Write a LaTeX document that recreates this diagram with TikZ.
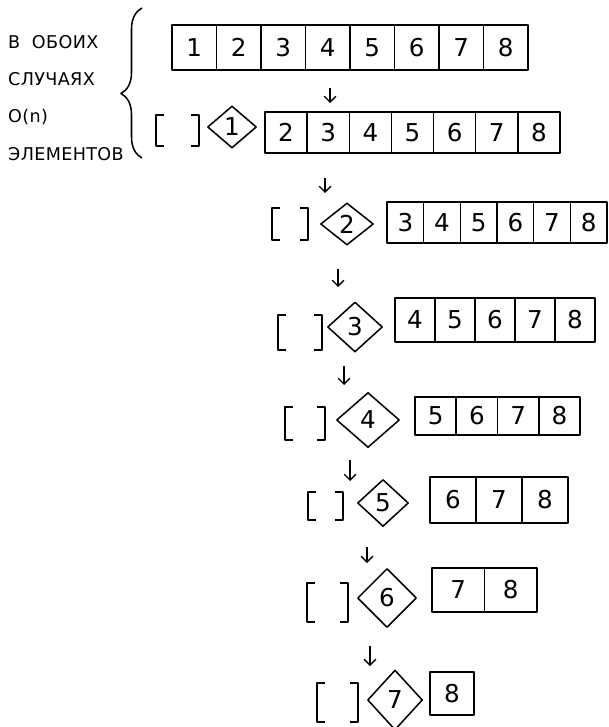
\documentclass[tikz,border=0pt]{standalone}
\usepackage{fontspec}
\setmainfont{DejaVu Sans}
\usetikzlibrary{
  arrows.meta,
  shapes.geometric,
  decorations.pathreplacing
}

\begin{document}
\begin{tikzpicture}[
  x=0.3mm,
  y=-0.3mm,
  line join=round,
  hand/.style={draw=black,line width=1.3pt},
  cell/.style={
    hand,
    rectangle,
    inner sep=0pt,
    font=\fontsize{21}{24}\selectfont
  },
  pivot/.style={
    hand,
    diamond,
    inner sep=0pt,
    font=\fontsize{21}{24}\selectfont
  },
  emptylist/.style={rectangle,inner sep=0pt},
  down/.style={-{Straight Barb[length=5pt,width=10pt]},line width=1.2pt},
  note/.style={anchor=west,inner sep=0pt,
    font=\fontsize{15}{18}\selectfont\addfontfeature{LetterSpace=2}}
]
\useasboundingbox (0,0) rectangle (608,727);

% left remark with the brace
\node[note] (both) at (8,42) {В\hspace{10pt}ОБОИХ};
\node[note] (cases) at (8,79) {СЛУЧАЯХ};
\node[note] (order) at (8,117) {O(n)};
\node[note] (elems) at (8,154) {ЭЛЕМЕНТОВ};
\coordinate (bracelow) at (142,158);
\coordinate (bracetop) at (142,8);
\draw[hand,decorate,decoration={brace,amplitude=6.3mm,aspect=0.43}]
  (bracelow) -- (bracetop);

% starting array
\foreach \k in {1,...,8}
  \node[cell,minimum width=13.35mm,minimum height=13.5mm] (cell0-\k)
    at ({172+(\k-0.5)*44.5},47.5) {\k};

% one row per step: empty list, pivot, rest of the array
\foreach \row/\bxl/\bxr/\byt/\byb/\px/\py/\pw/\ph/\axl/\axr/\ayt/\ayb/\dwx/\dwt/\dwb in {
  1/156/199/115/146/232/127/49/42/265/560/112/153/330/88/103,
  2/272/308/208/240/347/224/53/42/387/607/202/243/325/178/193,
  3/278/322/315/350/355/327/55/50/395/595/298/342/338/269/287,
  4/285/325/407/440/368/420/63/55/415/580/397/435/344/366/385,
  5/308/343/492/520/383/503/51/47/430/568/477/523/350/460/481,
  6/307/348/583/622/387/598/59/59/432/537/568/612/367/547/563,
  7/317/358/683/722/395/700/55/60/430/474/672/715/370/646/666}{
  \node[emptylist,minimum width={(\bxr-\bxl)*0.3mm},
    minimum height={(\byb-\byt)*0.3mm}] (list\row)
    at ({(\bxl+\bxr)/2},{(\byt+\byb)/2}) {};
  \draw[hand] ([xshift=2.4mm]list\row.north west) -- (list\row.north west)
    -- (list\row.south west) -- ([xshift=2.4mm]list\row.south west);
  \draw[hand] ([xshift=-2.4mm]list\row.north east) -- (list\row.north east)
    -- (list\row.south east) -- ([xshift=-2.4mm]list\row.south east);
  \node[pivot,minimum width={\pw*0.3mm},minimum height={\ph*0.3mm}]
    (pivot\row) at (\px,\py) {\row};
  \pgfmathtruncatemacro\first{\row+1}
  \pgfmathsetmacro\cw{(\axr-\axl)/(8-\row)}
  \foreach \k in {\first,...,8}
    \node[cell,minimum width={\cw*0.3mm},minimum height={(\ayb-\ayt)*0.3mm}]
      (cell\row-\k) at ({\axl+(\k-\first+0.5)*\cw},{(\ayt+\ayb)/2}) {\k};
  \coordinate (from\row) at (\dwx,\dwt);
  \coordinate (to\row) at (\dwx,\dwb);
  \draw[down] (from\row) -- (to\row);
}
\end{tikzpicture}
\end{document}
